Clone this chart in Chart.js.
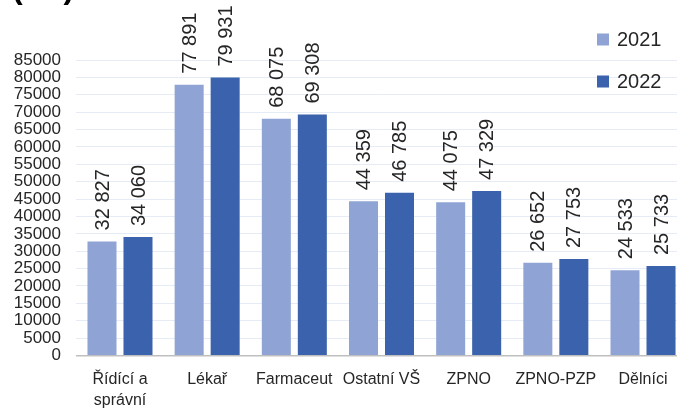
<!DOCTYPE html>
<html>
<head>
<meta charset="utf-8">
<script src="https://cdn.jsdelivr.net/npm/chart.js@4/dist/chart.umd.min.js"></script>
<style>
html, body { margin: 0; padding: 0; overflow: hidden; background: #fff; width: 677px; height: 410px; }
canvas { display: block; }
</style>
</head>
<body>
<canvas id="c" width="700" height="410"></canvas>
<script>
const categories = [['Řídící a', 'správní'], 'Lékař', 'Farmaceut', 'Ostatní VŠ', 'ZPNO', 'ZPNO-PZP', 'Dělníci'];
const seriesNames = ['2021', '2022'];
const values2021 = [32827, 77891, 68075, 44359, 44075, 26652, 24533];
const values2022 = [34060, 79931, 69308, 46785, 47329, 27753, 25733];
const yMin = 0, yMax = 85000, yStep = 5000;
const unitLabel = '(Kč)';

const FONT = '"Liberation Sans", Arial, sans-serif';
const colors = ['#8FA4D4', '#3B62AC'];

function fmt(v) { return String(v).replace(/\B(?=(\d{3})+(?!\d))/g, ' '); }

const dataLabels = {
  id: 'dataLabels',
  afterDatasetsDraw(chart) {
    const ctx = chart.ctx;
    ctx.save();
    ctx.font = '20px ' + FONT;
    ctx.fillStyle = '#262626';
    ctx.textAlign = 'left';
    ctx.textBaseline = 'middle';
    chart.data.datasets.forEach((ds, i) => {
      const meta = chart.getDatasetMeta(i);
      meta.data.forEach((bar, j) => {
        ctx.save();
        ctx.translate(bar.x, bar.y - 11);
        ctx.rotate(-Math.PI / 2);
        ctx.fillText(fmt(ds.data[j]), 0, 1);
        ctx.restore();
      });
    });
    ctx.restore();
  }
};

const customLegend = {
  id: 'customLegend',
  afterDraw(chart) {
    const ctx = chart.ctx;
    ctx.save();
    ctx.font = '20px ' + FONT;
    ctx.textBaseline = 'middle';
    ctx.textAlign = 'left';
    chart.data.datasets.forEach((ds, i) => {
      const cy = 39.5 + i * 42;
      ctx.fillStyle = ds.backgroundColor;
      ctx.fillRect(597, cy - 6, 12, 12);
      ctx.fillStyle = '#262626';
      ctx.fillText(ds.label, 617, cy + 1);
    });
    // cut-off unit label at top-left
    ctx.font = 'bold 32px ' + FONT;
    ctx.fillStyle = '#000';
    ctx.textBaseline = 'alphabetic';
    ctx.fillText(unitLabel, 12, -2);
    ctx.restore();
  }
};

new Chart(document.getElementById('c'), {
  type: 'bar',
  data: {
    labels: categories,
    datasets: [
      { label: seriesNames[0], data: values2021, backgroundColor: colors[0], borderWidth: 0, barPercentage: 0.806, categoryPercentage: 0.826 },
      { label: seriesNames[1], data: values2022, backgroundColor: colors[1], borderWidth: 0, barPercentage: 0.806, categoryPercentage: 0.826 }
    ]
  },
  options: {
    responsive: false,
    animation: false,
    layout: { padding: { top: 60, left: 0, right: 13.4, bottom: 0 } },
    plugins: { legend: { display: false }, tooltip: { enabled: false } },
    scales: {
      x: {
        grid: { display: false, drawTicks: false },
        border: { display: true, color: '#BFBFBF', width: 1.5 },
        ticks: { color: '#262626', font: { family: FONT, size: 16, lineHeight: 1.33 }, padding: 13, maxRotation: 0, autoSkip: false },
        afterFit: (s) => { s.height = 54.5; }
      },
      y: {
        min: yMin, max: yMax,
        grid: { color: '#E6ECF5', drawTicks: false, lineWidth: 1 },
        border: { display: false },
        ticks: { stepSize: yStep, autoSkip: false, color: '#262626', font: { family: FONT, size: 17 }, padding: 15.4, callback: (v) => String(v) },
        afterFit: (s) => { s.width = 76.4; }
      }
    }
  },
  plugins: [dataLabels, customLegend]
});
</script>
</body>
</html>
